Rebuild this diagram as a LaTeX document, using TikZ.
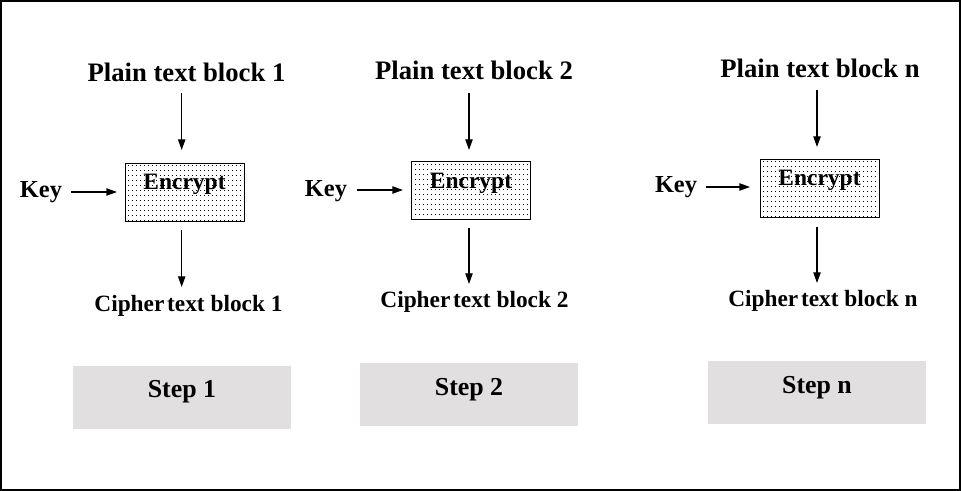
\documentclass[tikz,border=0pt]{standalone}
\usepackage{fontspec}
\setmainfont{Liberation Serif}
\usetikzlibrary{arrows.meta}
\definecolor{stepgray}{RGB}{225,223,224}
\begin{document}
\begin{tikzpicture}[x=0.75pt,y=-0.75pt,
  lbl/.style={anchor=base,inner sep=0pt,font=\bfseries\fontsize{20}{24}\selectfont},
  keylbl/.style={anchor=base,inner sep=0pt,font=\bfseries\fontsize{18.3}{22}\selectfont},
  ciph/.style={anchor=base,inner sep=0pt,font=\bfseries\fontsize{17.5}{21}\selectfont},
  encbox/.style={draw,line width=0.7pt,inner xsep=0pt,inner ysep=0pt,
    minimum width=89.25pt,text height=20.25pt,text depth=23.25pt,
    font=\bfseries\fontsize{17.6}{21}\selectfont,
    path picture={
      \foreach \i in {0,...,28}{\foreach \j in {0,...,11}{
        \fill[black] ([shift={(\i*4+3,\j*5+2.5)}]path picture bounding box.north west) rectangle ++(0.6pt,-0.6pt);}}}},
  stepbox/.style={fill=stepgray,inner xsep=0pt,inner ysep=0pt,minimum width=163.5pt,
    text height=24pt,text depth=23.25pt,font=\bfseries\fontsize{19.4}{23}\selectfont},
  arr/.style={line width=1pt,-{Triangle[length=8pt,width=5.5pt]}}]
\useasboundingbox (0,0) rectangle (961,491);
\draw[line width=1.2pt] (0.8,0.8) rectangle (960.2,490.2);

% Block 1
\node[lbl] (pt1) at (186.5,82) {Plain text block 1};
\node[encbox] (enc1) at (184.5,192) {Encrypt};
\node[keylbl] (key1) at (41,198) {Key};
\node[ciph] (ct1) at (188.5,312) {Cipher\hspace{0.12em}text block 1};
\node[stepbox] (s1) at (182,397.5) {Step 1};
\coordinate (a1s) at (181.7,93); \coordinate (a1e) at (181.7,150);
\coordinate (b1s) at (181.7,230); \coordinate (b1e) at (181.7,287);
\coordinate (k1s) at (71,192); \coordinate (k1e) at (117,192);
\draw[arr] (a1s) -- (a1e);
\draw[arr] (b1s) -- (b1e);
\draw[arr] (k1s) -- (k1e);

% Block 2
\node[lbl] (pt2) at (474,80) {Plain text block 2};
\node[encbox] (enc2) at (471,190.5) {Encrypt};
\node[keylbl] (key2) at (326,197) {Key};
\node[ciph] (ct2) at (474.5,308) {Cipher\hspace{0.12em}text block 2};
\node[stepbox] (s2) at (469,395) {Step 2};
\coordinate (a2s) at (469,93); \coordinate (a2e) at (469,150);
\coordinate (b2s) at (469,228); \coordinate (b2e) at (469,284);
\coordinate (k2s) at (357,190); \coordinate (k2e) at (403,190);
\draw[arr] (a2s) -- (a2e);
\draw[arr] (b2s) -- (b2e);
\draw[arr] (k2s) -- (k2e);

% Block n
\node[lbl] (ptn) at (820,78) {Plain text block n};
\node[encbox] (encn) at (819.5,188) {Encrypt};
\node[keylbl] (keyn) at (676,193) {Key};
\node[ciph] (ctn) at (823,307) {Cipher\hspace{0.12em}text block n};
\node[stepbox] (sn) at (817,393) {Step n};
\coordinate (ans) at (817,90); \coordinate (ane) at (817,147);
\coordinate (bns) at (817,227); \coordinate (bne) at (817,283);
\coordinate (kns) at (706,187); \coordinate (kne) at (750,187);
\draw[arr] (ans) -- (ane);
\draw[arr] (bns) -- (bne);
\draw[arr] (kns) -- (kne);
\end{tikzpicture}
\end{document}
